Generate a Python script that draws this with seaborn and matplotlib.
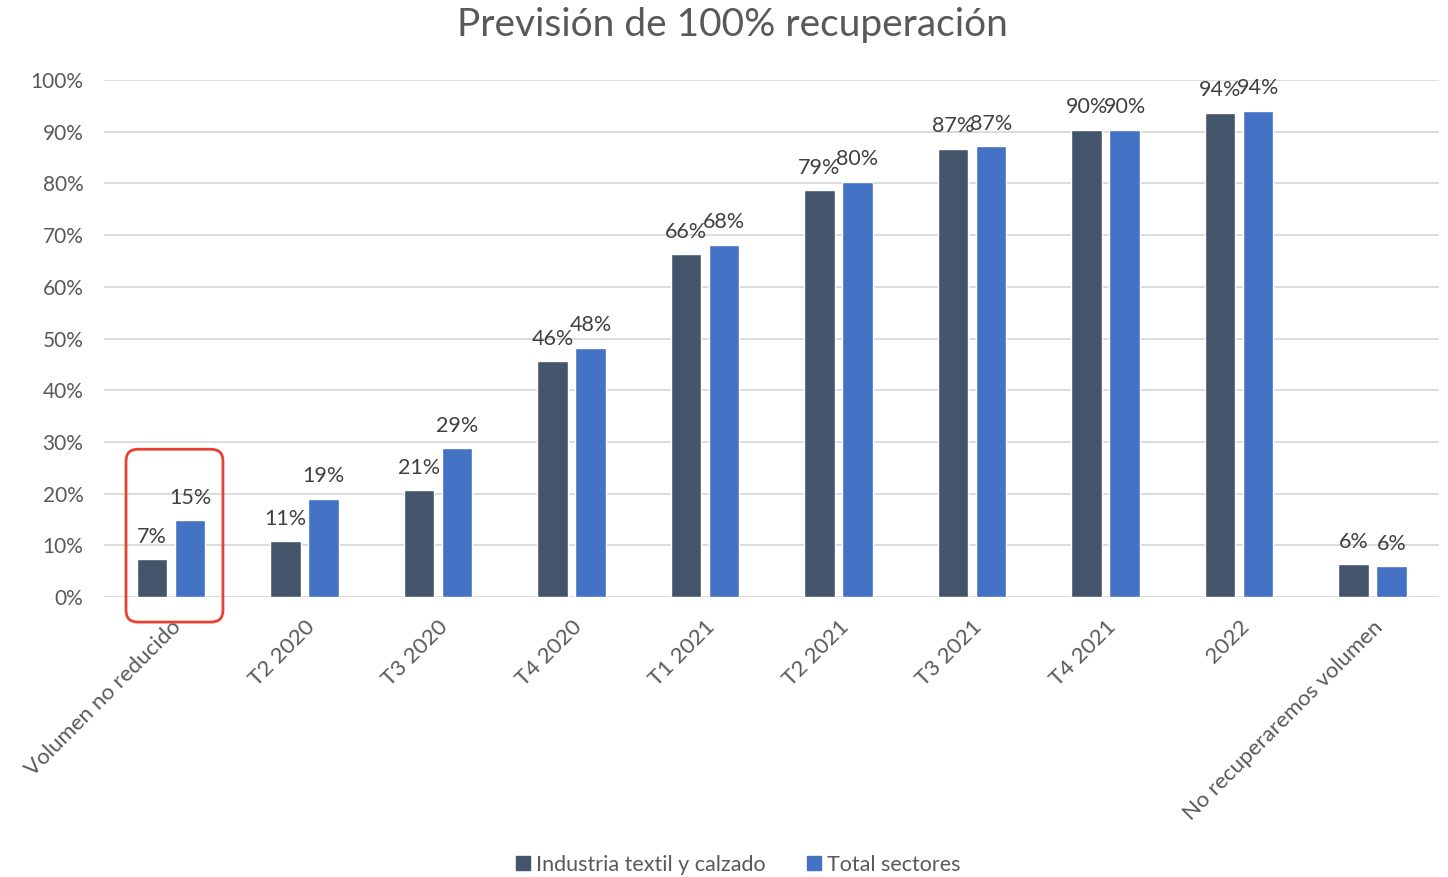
import seaborn as sns
import pandas as pd
import matplotlib.pyplot as plt
from matplotlib.patches import FancyBboxPatch, Patch
from matplotlib.ticker import PercentFormatter

categorias = ['Volumen no reducido', 'T2 2020', 'T3 2020', 'T4 2020', 'T1 2021',
              'T2 2021', 'T3 2021', 'T4 2021', '2022', 'No recuperaremos volumen']
textil = [7.3, 10.8, 20.7, 45.6, 66.3, 78.7, 86.7, 90.3, 93.6, 6.4]
total = [14.9, 19.0, 28.8, 48.2, 68.1, 80.3, 87.2, 90.3, 94.0, 6.0]
series = ['Industria textil y calzado', 'Total sectores']
colores = ['#44546A', '#4472C4']

df = pd.DataFrame({
    'cat': categorias * 2,
    'valor': textil + total,
    'serie': [series[0]] * len(categorias) + [series[1]] * len(categorias),
})

sns.set_style('white')
plt.rcParams['font.family'] = ['Lato', 'DejaVu Sans']

fig = plt.figure(figsize=(14.48, 8.77), dpi=100)
ax = fig.add_axes([0.072, 0.319, 0.922, 0.59])

sns.barplot(data=df, x='cat', y='valor', hue='serie', palette=colores,
            width=0.57, gap=0.2, ax=ax, legend=False, saturation=1)

for cont in ax.containers:
    ax.bar_label(cont, fmt='%.0f%%', padding=9, fontsize=15.5, color='#404040')

ax.set_ylim(0, 100)
ax.set_xlim(-0.5, len(categorias) - 0.5)
ax.set_yticks(range(0, 101, 10))
ax.yaxis.set_major_formatter(PercentFormatter(decimals=0))
ax.grid(axis='y', color='#D9D9D9', linewidth=1.3)
ax.set_axisbelow(True)
sns.despine(ax=ax, left=True, bottom=True)
ax.set_xlabel('')
ax.set_ylabel('')
ax.tick_params(axis='y', length=0, labelsize=15, labelcolor='#595959', pad=15)
ax.tick_params(axis='x', length=0, labelsize=16, labelcolor='#595959', pad=14)
plt.setp(ax.get_xticklabels(), rotation=45, ha='right', rotation_mode='anchor')

# marco rojo alrededor del primer grupo
caja = FancyBboxPatch((-0.337, -4.8), 0.726, 33.4,
                      boxstyle='round,pad=0,rounding_size=0.09',
                      mutation_aspect=25, fill=False, edgecolor='#E8412F',
                      linewidth=2, clip_on=False, zorder=5)
ax.add_patch(caja)

fig.text(0.506, 0.972, 'Previsión de 100% recuperación', ha='center', va='center',
         fontsize=28, color='#595959')

handles = [Patch(color=c) for c in colores]
fig.legend(handles, series, loc='center', bbox_to_anchor=(0.51, 0.014), ncol=2,
           frameon=False, fontsize=15.5, handlelength=0.65, handleheight=0.65,
           handletextpad=0.3, columnspacing=1.9, labelcolor='#595959')

fig.savefig('out.png', dpi=100)
